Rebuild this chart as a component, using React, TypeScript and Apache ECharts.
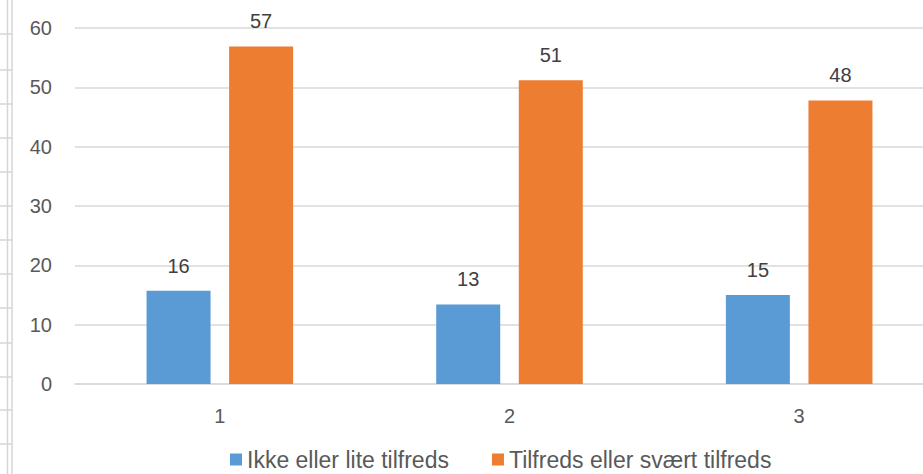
import React, { useEffect, useRef } from "react";
import * as echarts from "echarts";

const categories = ["1", "2", "3"];
const seriesNames = ["Ikke eller lite tilfreds", "Tilfreds eller svært tilfreds"];
const lowValues = [15.7, 13.4, 15.0];
const highValues = [56.9, 51.2, 47.8];
const yTicks = { min: 0, max: 60, interval: 10 };
const sheetRowLines = [34, 70, 104, 138, 172, 206, 240, 274, 308, 343, 377, 410, 444];

export default function App() {
  const ref = useRef<HTMLDivElement>(null);
  useEffect(() => {
    if (!ref.current) return;
    const chart = echarts.init(ref.current, null, { renderer: "svg" });
    const font = "'Liberation Sans', Arial, sans-serif";
    const labelStyle = {
      show: true,
      position: "top",
      distance: 15,
      color: "#404040",
      fontSize: 20,
      fontFamily: font,
      formatter: (p: any) => String(Math.round(p.value)),
    };
    const graphics: any[] = [
      { type: "line", shape: { x1: 7.5, y1: 0, x2: 7.5, y2: 474 }, style: { stroke: "#d6d6d6", lineWidth: 1.5 }, silent: true },
      { type: "line", shape: { x1: 12, y1: 0, x2: 12, y2: 474 }, style: { stroke: "#d6d6d6", lineWidth: 1.5 }, silent: true },
      ...sheetRowLines.map((y) => ({
        type: "line",
        shape: { x1: 0, y1: y, x2: 12, y2: y },
        style: { stroke: "#d6d6d6", lineWidth: 1.5 },
        silent: true,
      })),
    ];
    chart.setOption({
      animation: false,
      backgroundColor: "#ffffff",
      textStyle: { fontFamily: font },
      graphic: graphics,
      grid: { left: 75, top: 28, right: 0, height: 356, containLabel: false },
      legend: {
        data: seriesNames,
        left: 230,
        top: 448,
        padding: 0,
        itemWidth: 12,
        itemHeight: 12,
        itemGap: 43,
        icon: "rect",
        textStyle: { color: "#595959", fontSize: 23, fontFamily: font },
      },
      xAxis: {
        type: "category",
        data: categories,
        axisLine: { lineStyle: { color: "#d9d9d9", width: 1.5 } },
        axisTick: { show: false },
        axisLabel: { color: "#595959", fontSize: 20, margin: 22, fontFamily: font },
      },
      yAxis: {
        type: "value",
        min: yTicks.min,
        max: yTicks.max,
        interval: yTicks.interval,
        axisLine: { show: false },
        axisTick: { show: false },
        splitLine: { lineStyle: { color: "#d9d9d9", width: 1.5 } },
        axisLabel: { color: "#595959", fontSize: 20, margin: 23, fontFamily: font },
      },
      series: [
        {
          name: seriesNames[0],
          type: "bar",
          data: lowValues,
          barWidth: 64,
          barGap: "29%",
          itemStyle: { color: "#5b9bd5" },
          label: labelStyle,
        },
        {
          name: seriesNames[1],
          type: "bar",
          data: highValues,
          barWidth: 64,
          barGap: "29%",
          itemStyle: { color: "#ed7d31" },
          label: labelStyle,
        },
      ],
    });
    return () => chart.dispose();
  }, []);
  return (
    <div
      ref={ref}
      style={{ position: "fixed", left: 0, top: 0, width: 944, height: 474, background: "#fff" }}
    />
  );
}
